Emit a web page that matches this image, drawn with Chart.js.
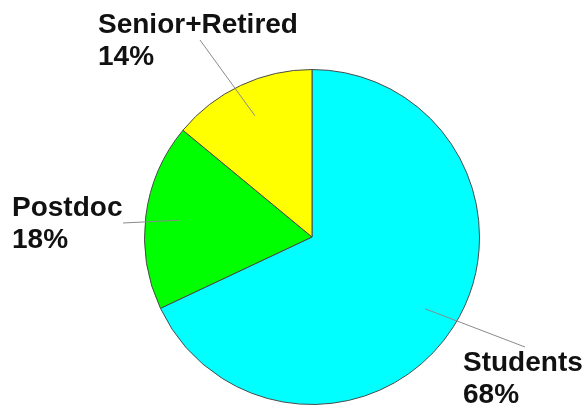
<!DOCTYPE html>
<html>
<head>
<meta charset="utf-8">
<script src="https://cdn.jsdelivr.net/npm/chart.js@4"></script>
<style>
html,body{margin:0;padding:0;background:#fff;}
#wrap{width:586px;height:406px;position:relative;}
</style>
</head>
<body>
<div id="wrap"><canvas id="c" width="586" height="406"></canvas></div>
<script>
const categories = ["Students", "Postdoc", "Senior+Retired"];
const percentages = [68, 18, 14];
const sliceColors = ["#00FFFF", "#00FF00", "#FFFF00"];

// label placement (annotation styling): outer end of leader line and text anchor
const labelStyle = [
  {lineEnd: [525, 347], textX: 463, textY: 371, align: "left"},
  {lineEnd: [123, 223], textX: 12,  textY: 216, align: "left"},
  {lineEnd: [200, 40],  textX: 98,  textY: 33,  align: "left"}
];

const labelPlugin = {
  id: "pieLabels",
  afterDatasetsDraw(chart) {
    const ctx = chart.ctx;
    const meta = chart.getDatasetMeta(0);
    meta.data.forEach((arc, i) => {
      const mid = (arc.startAngle + arc.endAngle) / 2;
      const r = arc.outerRadius * 0.8;
      const sx = arc.x + Math.cos(mid) * r;
      const sy = arc.y + Math.sin(mid) * r;
      const st = labelStyle[i];
      ctx.save();
      ctx.strokeStyle = "#8a8a8a";
      ctx.lineWidth = 1;
      ctx.beginPath();
      ctx.moveTo(sx, sy);
      ctx.lineTo(st.lineEnd[0], st.lineEnd[1]);
      ctx.stroke();
      ctx.fillStyle = "#111";
      ctx.font = "bold 28px 'Liberation Sans', Arial, sans-serif";
      ctx.textAlign = st.align;
      ctx.textBaseline = "alphabetic";
      ctx.fillText(chart.data.labels[i], st.textX, st.textY);
      ctx.fillText(chart.data.datasets[0].data[i] + "%", st.textX, st.textY + 32);
      ctx.restore();
    });
  }
};

new Chart(document.getElementById("c"), {
  type: "pie",
  data: {
    labels: categories,
    datasets: [{
      data: percentages,
      backgroundColor: sliceColors,
      borderColor: "#4a4a4a",
      borderWidth: 1
    }]
  },
  options: {
    responsive: false,
    animation: false,
    events: [],
    layout: {padding: {left: 144, right: 106, top: 69, bottom: 1}},
    plugins: {legend: {display: false}, tooltip: {enabled: false}}
  },
  plugins: [labelPlugin]
});
</script>
</body>
</html>
